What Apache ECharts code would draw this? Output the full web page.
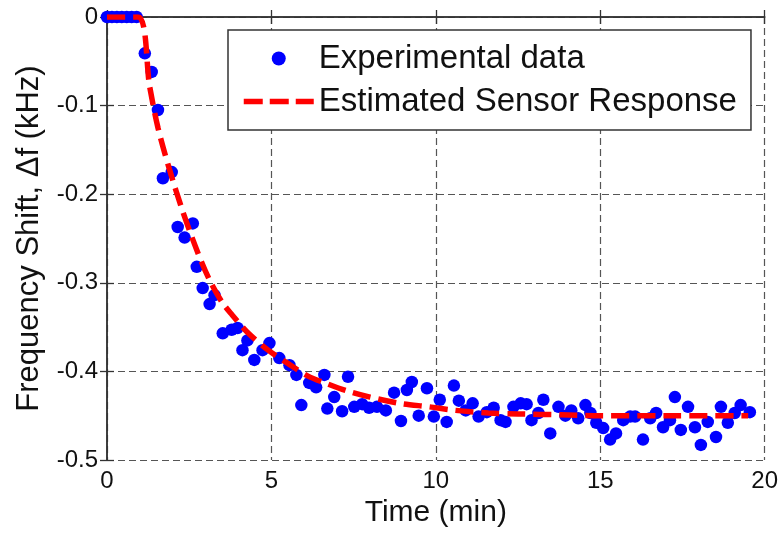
<!DOCTYPE html>
<html>
<head>
<meta charset="utf-8">
<script src="https://cdn.jsdelivr.net/npm/echarts@6/dist/echarts.min.js"></script>
<style>
html,body{margin:0;padding:0;background:#fff;}
#chart{width:781px;height:535px;}
</style>
</head>
<body>
<div id="chart"></div>
<script>
// ---- data ----
const expTime = [0, 0.15, 0.3, 0.45, 0.6, 0.75, 0.9,
  1.15, 1.36, 1.55, 1.70, 1.97, 2.15, 2.36, 2.61, 2.73, 2.91, 3.12, 3.27, 3.52, 3.79, 3.97,
  4.12, 4.27, 4.48, 4.73, 4.94, 5.24, 5.55, 5.76, 5.91, 6.15, 6.36, 6.61, 6.70, 6.91, 7.15,
  7.33, 7.52, 7.76, 7.97, 8.21, 8.48, 8.73, 8.94, 9.12, 9.27, 9.48, 9.73, 9.94, 10.12, 10.33,
  10.55, 10.70, 10.91, 11.12, 11.30, 11.55, 11.76, 11.97, 12.12, 12.36, 12.58, 12.76, 12.91,
  13.12, 13.27, 13.48, 13.73, 13.94, 14.12, 14.33, 14.55, 14.70, 14.88, 15.09, 15.30, 15.48,
  15.70, 15.91, 16.06, 16.30, 16.52, 16.70, 16.91, 17.12, 17.27, 17.45, 17.67, 17.88, 18.06,
  18.27, 18.52, 18.67, 18.88, 19.09, 19.27, 19.55];
const expShift = [0, 0, 0, 0, 0, 0, 0,
  -0.041, -0.062, -0.105, -0.182, -0.175, -0.237, -0.249, -0.233, -0.282, -0.306, -0.324, -0.314, -0.357, -0.353, -0.351,
  -0.376, -0.365, -0.387, -0.376, -0.368, -0.385, -0.393, -0.404, -0.438, -0.413, -0.418, -0.404, -0.442, -0.429, -0.445,
  -0.406, -0.440, -0.437, -0.441, -0.440, -0.444, -0.424, -0.456, -0.421, -0.412, -0.450, -0.419, -0.451, -0.432, -0.457,
  -0.416, -0.433, -0.444, -0.436, -0.451, -0.446, -0.441, -0.455, -0.457, -0.440, -0.436, -0.437, -0.455,
  -0.447, -0.432, -0.470, -0.440, -0.450, -0.444, -0.453, -0.438, -0.447, -0.458, -0.464, -0.477, -0.470,
  -0.455, -0.451, -0.451, -0.477, -0.453, -0.447, -0.463, -0.455, -0.429, -0.466, -0.440, -0.463, -0.483,
  -0.457, -0.474, -0.440, -0.458, -0.447, -0.438, -0.446];

const fitTime  = [0, 0.95, 1.3, 1.55, 1.9, 2.3, 2.73, 3.12, 3.5, 3.8, 4.3, 4.9, 5.5, 6.1, 6.7, 7.3, 8.0, 8.9, 9.8, 10.6, 11.6, 12.5, 13.8, 15, 17, 19.5];
const fitShift = [0, 0, -0.079, -0.125, -0.172, -0.219, -0.263, -0.297, -0.322, -0.336, -0.357, -0.376, -0.391, -0.405, -0.414, -0.422, -0.429, -0.436, -0.440, -0.444, -0.447, -0.448, -0.449, -0.45, -0.45, -0.45];

const xTicks = {min: 0, max: 20, interval: 5};
const yTicks = {min: -0.5, max: 0, interval: 0.1};
const seriesNames = ['Experimental data', 'Estimated Sensor Response'];
const xName = 'Time (min)';
const yName = 'Frequency Shift, \u0394f (kHz)';

const FONT = "'Liberation Sans', Arial, Helvetica, sans-serif";
const frame = {show: true, lineStyle: {color: '#333', width: 1.5}};
const tick = {show: true, inside: true, length: 7, lineStyle: {color: '#333', width: 1.3}};
const grid = {show: true, lineStyle: {color: '#555', width: 1.2, type: [7, 4]}};
const dash = [18, 8];

const chart = echarts.init(document.getElementById('chart'), null, {renderer: 'canvas'});
chart.setOption({
  animation: false,
  backgroundColor: '#fff',
  grid: {left: 107, right: 16, top: 17, bottom: 75, containLabel: false},
  legend: {
    left: 228, top: 30,
    orient: 'vertical',
    padding: [12, 14, 12, 13],
    itemGap: 10,
    itemWidth: 70, itemHeight: 14,
    symbolKeepAspect: true,
    borderColor: '#333', borderWidth: 1.5, backgroundColor: '#fff',
    textStyle: {fontFamily: FONT, fontSize: 33, color: '#111', lineHeight: 32},
    data: [
      {name: seriesNames[0], icon: 'circle', itemStyle: {color: '#0000ff', opacity: 1}},
      {name: seriesNames[1],
       itemStyle: {color: 'rgba(0,0,0,0)', borderColor: 'rgba(0,0,0,0)', borderWidth: 0},
       lineStyle: {color: '#ff0000', width: 5.5, type: [19, 7]}}
    ]
  },
  xAxis: [{
    type: 'value', position: 'bottom', min: xTicks.min, max: xTicks.max, interval: xTicks.interval,
    name: xName, nameLocation: 'middle', nameGap: 38,
    nameTextStyle: {fontFamily: FONT, fontSize: 30, color: '#111'},
    axisLine: frame, axisTick: tick, splitLine: grid,
    axisLabel: {fontFamily: FONT, fontSize: 24, color: '#111', margin: 9}
  }, {
    type: 'value', position: 'top', min: xTicks.min, max: xTicks.max, interval: xTicks.interval,
    axisLine: frame, axisTick: tick, splitLine: {show: false}, axisLabel: {show: false}
  }],
  yAxis: [{
    type: 'value', position: 'left', min: yTicks.min, max: yTicks.max, interval: yTicks.interval,
    name: yName, nameLocation: 'middle', nameGap: 62,
    nameTextStyle: {fontFamily: FONT, fontSize: 31, color: '#111'},
    axisLine: frame, axisTick: tick, splitLine: grid,
    axisLabel: {fontFamily: FONT, fontSize: 24, color: '#111', margin: 9}
  }, {
    type: 'value', position: 'right', min: yTicks.min, max: yTicks.max, interval: yTicks.interval,
    axisLine: frame, axisTick: tick, splitLine: {show: false}, axisLabel: {show: false}
  }],
  series: [{
    name: seriesNames[0],
    type: 'scatter',
    symbol: 'circle', symbolSize: 12.5,
    itemStyle: {color: '#0000ff', opacity: 1},
    data: expTime.map((t, i) => [t, expShift[i]]),
    z: 2
  }, {
    name: seriesNames[1],
    type: 'line',
    smooth: 0.3,
    showSymbol: false, symbol: 'none',
    lineStyle: {color: '#ff0000', width: 5.5, type: dash},
    itemStyle: {color: '#ff0000'},
    data: fitTime.map((t, i) => [t, fitShift[i]]),
    z: 3
  }]
});
</script>
</body>
</html>
